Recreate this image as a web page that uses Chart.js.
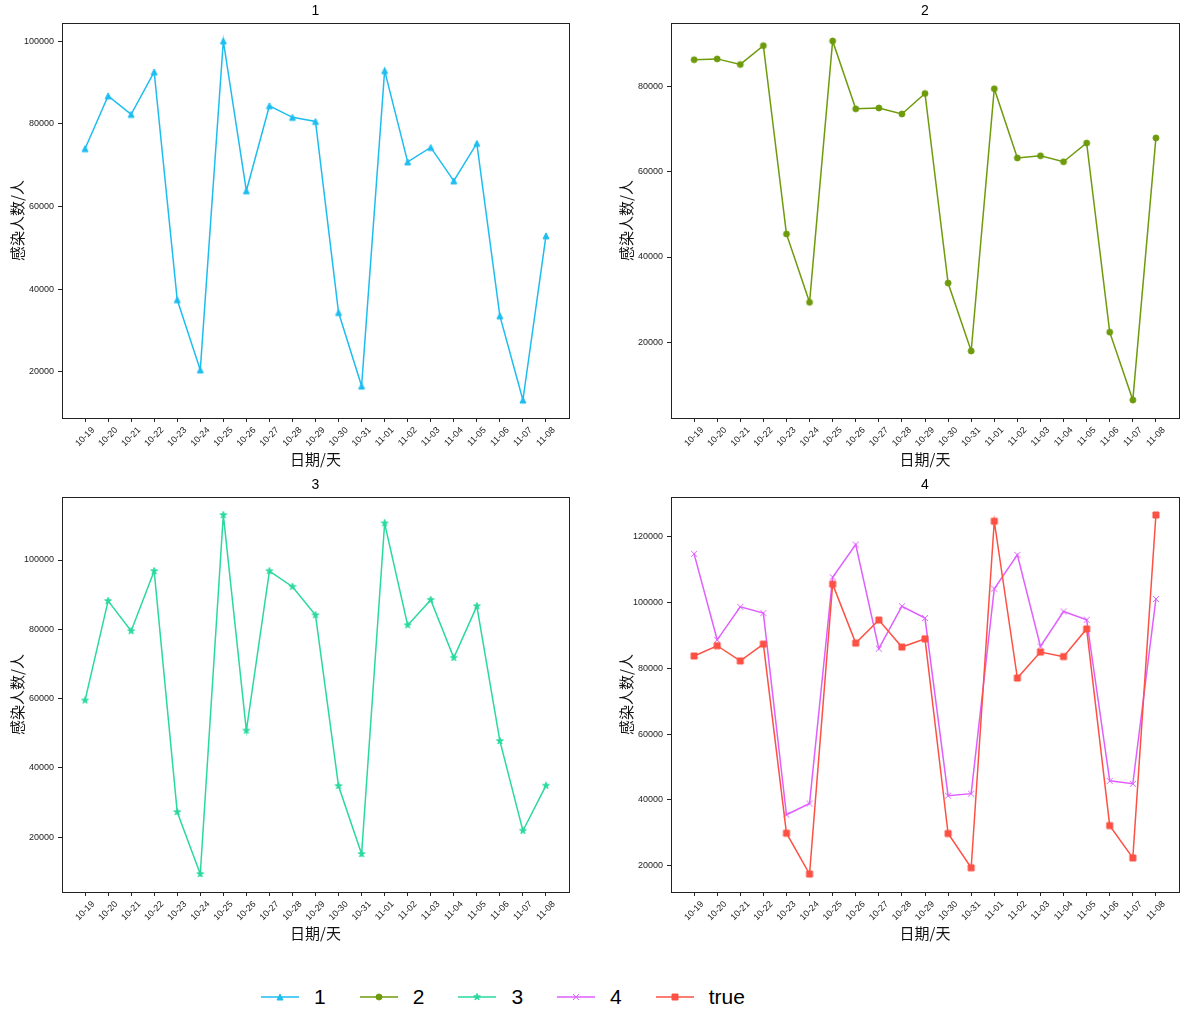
<!DOCTYPE html>
<html>
<head>
<meta charset="utf-8">
<script src="https://cdn.jsdelivr.net/npm/chart.js@4.4.0/dist/chart.umd.min.js"></script>
<style>
  body { margin: 0; background: #fff; width: 1185px; height: 1031px; position: relative; overflow: hidden; }
  canvas.panel { position: absolute; }
  #legend { position: absolute; left: 261px; top: 985px; height: 24px; display: flex; align-items: center;
            font: 21px "Liberation Sans", sans-serif; color: #000; }
  .item { display: flex; align-items: center; margin-right: 34px; }
  .item span { margin-left: 15px; line-height: 24px; }
</style>
</head>
<body>
<canvas id="c1" class="panel" width="592" height="470" style="left:0;top:0"></canvas>
<canvas id="c2" class="panel" width="593" height="470" style="left:592px;top:0"></canvas>
<canvas id="c3" class="panel" width="592" height="470" style="left:0;top:474px"></canvas>
<canvas id="c4" class="panel" width="593" height="470" style="left:592px;top:474px"></canvas>
<div id="legend"></div>
<script>
// dates on the x axis
const dates = ['10-19', '10-20', '10-21', '10-22', '10-23', '10-24', '10-25', '10-26', '10-27', '10-28',
  '10-29', '10-30', '10-31', '11-01', '11-02', '11-03', '11-04', '11-05', '11-06', '11-07', '11-08'];

// values
const series1 = [74000, 86800, 82300, 92600, 37400, 20400, 100100, 63800, 84400, 81600,
  80600, 34300, 16500, 92900, 70800, 74300, 66200, 75300, 33500, 13100, 52900];
const series2 = [86200, 86400, 85100, 89500, 45400, 29400, 90600, 74700, 74900, 73500,
  78300, 33900, 18000, 79400, 63200, 63700, 62300, 66700, 22400, 6500, 67900];
const series3 = [59500, 88200, 79500, 96800, 27300, 9400, 113000, 50800, 96800, 92300,
  84100, 34800, 15200, 110600, 81200, 88500, 71800, 86700, 47800, 21900, 34900];
const series4 = [114700, 88600, 98600, 96700, 35500, 38900, 107600, 117500, 85900, 98800,
  95200, 41300, 41900, 104100, 114400, 86600, 97200, 94700, 45800, 44900, 101000];
const trueVals = [83700, 86800, 82200, 87300, 29900, 17500, 105500, 87600, 94600, 86400,
  88900, 29800, 19400, 124600, 77000, 84900, 83500, 91900, 32200, 22400, 126500];

// y tick values of each panel
const yTicks1 = [20000, 40000, 60000, 80000, 100000];
const yTicks2 = [20000, 40000, 60000, 80000];
const yTicks3 = [20000, 40000, 60000, 80000, 100000];
const yTicks4 = [20000, 40000, 60000, 80000, 100000, 120000];

const names = ['1', '2', '3', '4', 'true'];
const colors = ['#1ebdf0', '#6e9b0c', '#2ad99e', '#df5fff', '#fd5144'];
const markerKinds = ['triangle', 'circle', 'star', 'cross', 'square'];

const tickFont = { family: '"Liberation Sans", sans-serif', size: 9 };
const cjkFont = { family: '"Noto Sans CJK SC", sans-serif', size: 15 };

// matplotlib-like marker images
function makeMarker(kind, color) {
  const c = document.createElement('canvas');
  c.width = 12; c.height = 12;
  const g = c.getContext('2d');
  g.translate(6, 6);
  g.fillStyle = color;
  g.strokeStyle = color;
  g.lineWidth = 1;
  g.beginPath();
  if (kind === 'triangle') {
    g.moveTo(0, -3); g.lineTo(3, 3); g.lineTo(-3, 3); g.closePath();
  } else if (kind === 'circle') {
    g.arc(0, 0, 3, 0, Math.PI * 2);
  } else if (kind === 'square') {
    g.rect(-3, -3, 6, 6);
  } else if (kind === 'star') {
    for (let i = 0; i < 10; i++) {
      const r = i % 2 ? 1.4 : 3.6;
      const a = -Math.PI / 2 + i * Math.PI / 5;
      g.lineTo(r * Math.cos(a), r * Math.sin(a));
    }
    g.closePath();
  }
  if (kind === 'cross') {
    g.moveTo(-3, -3); g.lineTo(3, 3);
    g.moveTo(3, -3); g.lineTo(-3, 3);
    g.stroke();
  } else {
    g.fill();
    g.stroke();
  }
  return c;
}
const markers = markerKinds.map((k, i) => makeMarker(k, colors[i]));

// frame round the plot area and centred 45 degree date labels
const framePlugin = {
  id: 'frame',
  afterDraw(chart) {
    const ctx = chart.ctx;
    const a = chart.chartArea;
    const sx = chart.scales.x;
    ctx.save();
    ctx.strokeStyle = '#222';
    ctx.lineWidth = 1;
    ctx.strokeRect(a.left + 0.5, a.top + 0.5, a.right - a.left, a.bottom - a.top);
    ctx.font = tickFont.size + 'px ' + tickFont.family;
    ctx.fillStyle = '#222';
    ctx.textAlign = 'center';
    ctx.textBaseline = 'middle';
    sx.ticks.forEach(t => {
      const label = dates[t.value];
      const w = ctx.measureText(label).width;
      const h = tickFont.size * 1.2;
      const x = sx.getPixelForValue(t.value);
      const y = sx.top + 7 + (w + h) / (2 * Math.SQRT2);
      ctx.save();
      ctx.translate(x, y);
      ctx.rotate(-Math.PI / 4);
      ctx.fillText(label, 0, 0);
      ctx.restore();
    });
    ctx.restore();
  }
};

function panel(id, title, idx, yTicks, padL, padR) {
  const src = [series1, series2, series3, series4, trueVals];
  const all = idx.flatMap(i => src[i]);
  const lo = Math.min(...all), hi = Math.max(...all), m = (hi - lo) * 0.05;
  new Chart(document.getElementById(id), {
    type: 'line',
    data: {
      datasets: idx.map(i => ({
        label: names[i],
        data: src[i].map((v, j) => ({ x: j, y: v })),
        borderColor: colors[i],
        backgroundColor: colors[i],
        borderWidth: 1.5,
        pointStyle: markers[i],
        pointRadius: 4,
        tension: 0,
        order: i === 4 ? 0 : 1
      }))
    },
    options: {
      responsive: false,
      animation: false,
      events: [],
      layout: { padding: { left: padL, right: padR, top: 0, bottom: 0 } },
      plugins: {
        legend: { display: false },
        tooltip: { enabled: false },
        title: {
          display: true, text: title, fullSize: false, color: '#000',
          font: { family: tickFont.family, size: 14, weight: 'normal' },
          padding: { top: 3, bottom: 3.2 }
        }
      },
      scales: {
        x: {
          type: 'linear', min: -1, max: dates.length,
          ticks: { display: false },
          afterBuildTicks: s => { s.ticks = dates.map((d, i) => ({ value: i })); },
          afterFit: s => { s.height = 52; },
          grid: { drawOnChartArea: false, drawTicks: true, tickLength: 4, tickColor: '#222' },
          border: { display: false },
          title: { display: true, text: '日期/天', color: '#111', font: cjkFont, padding: { top: 0, bottom: 2 } }
        },
        y: {
          type: 'linear',
          min: lo - m, max: hi + m,
          ticks: { padding: 4, color: '#222', font: tickFont, callback: v => String(v) },
          afterBuildTicks: s => { s.ticks = yTicks.map(v => ({ value: v })); },
          afterFit: s => { s.width = 54; },
          grid: { drawOnChartArea: false, drawTicks: true, tickLength: 4, tickColor: '#222' },
          border: { display: false },
          title: { display: true, text: '感染人数/人', color: '#111', font: cjkFont, padding: { top: 0, bottom: 0 } }
        }
      }
    },
    plugins: [framePlugin]
  });
}

panel('c1', '1', [0], yTicks1, 8, 23);
panel('c2', '2', [1], yTicks2, 25, 6);
panel('c3', '3', [2], yTicks3, 8, 23);
panel('c4', '4', [3, 4], yTicks4, 25, 6);

// figure legend below the panels
const legend = document.getElementById('legend');
names.forEach((n, i) => {
  const item = document.createElement('div');
  item.className = 'item';
  const c = document.createElement('canvas');
  c.width = 38; c.height = 20;
  const g = c.getContext('2d');
  g.strokeStyle = colors[i];
  g.lineWidth = 1.5;
  g.beginPath(); g.moveTo(0, 10); g.lineTo(38, 10); g.stroke();
  g.drawImage(markers[i], 19 - 6, 10 - 6);
  const s = document.createElement('span');
  s.textContent = n;
  item.appendChild(c);
  item.appendChild(s);
  legend.appendChild(item);
});
</script>
</body>
</html>
